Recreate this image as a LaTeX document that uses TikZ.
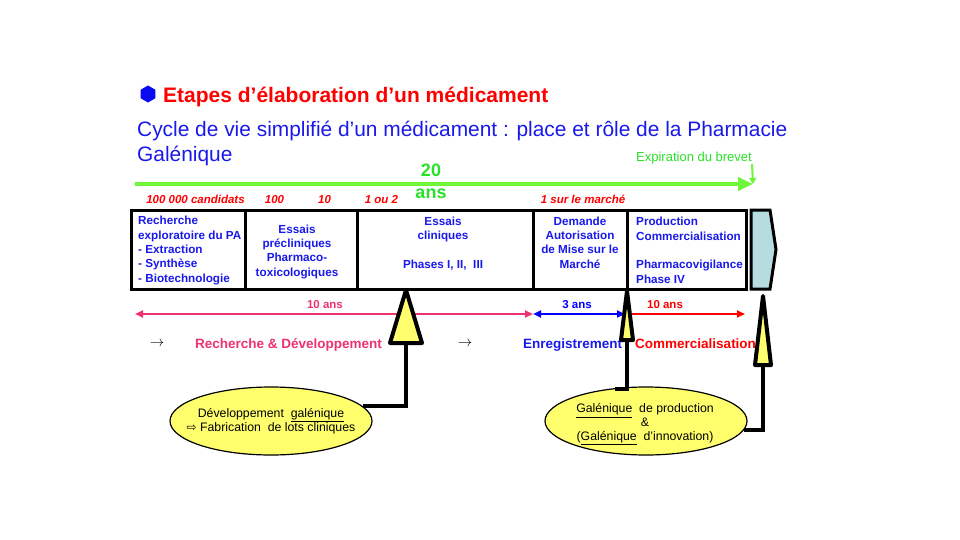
\documentclass[tikz,border=0pt]{standalone}
\usepackage{fontspec}
\setmainfont{Liberation Sans}
\newfontfamily\symfont{DejaVu Sans}
\usetikzlibrary{arrows.meta,shapes.geometric}

\definecolor{txtblue}{RGB}{25,25,235}
\definecolor{patentgreen}{RGB}{110,245,60}
\definecolor{labelgreen}{RGB}{40,225,40}
\definecolor{rdpink}{RGB}{238,50,110}
\definecolor{bubyellow}{RGB}{255,255,110}
\definecolor{tipblue}{RGB}{182,220,224}
\definecolor{bulletblue}{RGB}{10,10,240}

\begin{document}
\begin{tikzpicture}[x=1pt,y=-1pt,
  stage/.style={draw=black, line width=3pt, minimum height=79pt, inner sep=0pt},
  boxtxt/.style={text=txtblue, font=\fontsize{11.7}{14.3}\selectfont\bfseries, inner sep=0pt, anchor=base},
  count/.style={text=red, font=\fontsize{11.5}{13}\selectfont\bfseries\itshape, inner sep=0pt, anchor=base},
  span/.style={font=\fontsize{11.5}{13}\selectfont\bfseries, inner sep=0pt, anchor=base},
  phase/.style={font=\fontsize{13.5}{16}\selectfont\bfseries, inner sep=0pt, anchor=base west},
  bubble/.style={ellipse, draw=black, line width=1.2pt, fill=bubyellow,
                 minimum width=202pt, minimum height=68pt, inner sep=0pt},
  bubtxt/.style={font=\fontsize{12.3}{13.6}\selectfont, align=center, inner sep=0pt, anchor=base},
  marker/.style={draw=black, line width=4pt, fill=bubyellow, line join=round},
  stem/.style={draw=black, line width=4pt},
  span arrow/.style={line width=2.3pt},
]
\useasboundingbox (0,0) rectangle (960,540);
\fill[white] (0,0) rectangle (960,540);

% ---- headings ----
\node[regular polygon, regular polygon sides=6, shape border rotate=30, fill=bulletblue,
      minimum size=17pt, inner sep=0pt] (bullet) at (148,94) {};
\node[anchor=base west, inner sep=0pt, text=red, font=\fontsize{21}{24}\selectfont\bfseries]
  (title) at (163,103) {Etapes d’élaboration d’un médicament};
\node[anchor=base west, inner sep=0pt, text=txtblue, font=\fontsize{20.9}{24}\selectfont]
  (sub1) at (137,137) {Cycle de vie simplifié d’un médicament : place et rôle de la Pharmacie};
\node[anchor=base west, inner sep=0pt, text=txtblue, font=\fontsize{20.9}{24}\selectfont]
  (sub2) at (137,162) {Galénique};

% ---- patent lifetime ----
\node[anchor=base west, inner sep=0pt, text=labelgreen, font=\fontsize{13}{14}\selectfont]
  (brevet) at (636,161) {Expiration du brevet};
\coordinate (g0) at (135,184);
\coordinate (g1) at (753,184);
\coordinate (gx) at (752,164);
\draw[patentgreen, line width=4.5pt, -{Triangle[length=15pt,width=13pt]}] (g0) -- (g1);
\draw[patentgreen, line width=2pt, -{Triangle[length=6pt,width=7pt]}] (gx) -- (g1);
\node[span, text=labelgreen, font=\fontsize{18}{20}\selectfont\bfseries] (y20) at (431,177) {20};
\node[span, text=labelgreen, font=\fontsize{18}{20}\selectfont\bfseries] (yans) at (431,198) {ans};

% ---- candidate counts ----
\node[count] (c1) at (195.5,204) {100 000 candidats};
\node[count] (c2) at (274.5,204) {100};
\node[count] (c3) at (324.5,204) {10};
\node[count] (c4) at (381.5,204) {1 ou 2};
\node[count] (c5) at (583,204) {1 sur le marché};

% ---- stages ----
\node[stage, minimum width=114pt] (b1) at (188,249.5) {};
\node[stage, minimum width=112pt] (b2) at (301,249.5) {};
\node[stage, minimum width=176pt] (b3) at (445,249.5) {};
\node[stage, minimum width=94pt]  (b4) at (580,249.5) {};
\node[stage, minimum width=119pt] (b5) at (686.5,249.5) {};
\draw[fill=tipblue, line width=3pt, line join=miter]
  (751,210) -- (770,210) -- (776,249.5) -- (770,289) -- (751,289) -- cycle;

% multi-line labels are placed by the baseline of their last line
\node[boxtxt, anchor=base west, align=left] (t1) at (138,282)
  {Recherche\\exploratoire du PA\\- Extraction\\- Synthèse\\- Biotechnologie};
\node[boxtxt, align=center] (t2) at (297,276)
  {Essais\\précliniques\\Pharmaco-\\toxicologiques};
\node[boxtxt, align=center] (t3) at (443,268)
  {Essais\\cliniques\\\mbox{}\\Phases I, II,~ III};
\node[boxtxt, align=center] (t4) at (580,268)
  {Demande\\Autorisation\\de Mise sur le\\Marché};
\node[boxtxt, anchor=base west, align=left] (t5) at (636,283)
  {Production\\Commercialisation\\\mbox{}\\Pharmacovigilance\\Phase IV};

% ---- durations ----
\coordinate (d0) at (135,314);
\coordinate (d1) at (533,314);
\coordinate (d2) at (625,314);
\coordinate (d3) at (629,314);
\coordinate (d4) at (745,314);
\draw[span arrow, rdpink, {Triangle[length=8pt,width=7pt]}-{Triangle[length=8pt,width=7pt]}] (d0) -- (d1);
\draw[span arrow, blue, {Triangle[length=8pt,width=7pt]}-{Triangle[length=8pt,width=7pt]}] (d1) -- (d2);
\draw[span arrow, red, -{Triangle[length=8pt,width=7pt]}] (d3) -- (d4);
\node[span, text=rdpink] (s1) at (325,308.5) {10 ans};
\node[span, text=blue] (s2) at (577,308.5) {3 ans};
\node[span, text=red] (s3) at (665,308.5) {10 ans};

% ---- phases ----
\node[inner sep=0pt, font=\fontsize{14}{16}\selectfont] (ar1) at (157,344) {$\rightarrow$};
\node[inner sep=0pt, font=\fontsize{14}{16}\selectfont] (ar2) at (465,344) {$\rightarrow$};
\node[phase, text=rdpink] (p1) at (195,348) {Recherche \& Développement};
\node[phase, text=txtblue] (p2) at (523,348) {Enregistrement};
\node[phase, text=red] (p3) at (635,348) {Commercialisation};

% ---- galenic roles ----
\node[bubble] (e1) at (271,421) {};
\node[bubble] (e2) at (646,421) {};
\node[bubtxt] (e1t) at (271,431)
  {Développement~ \underline{galénique}\\{\symfont\fontsize{12}{14}\selectfont ⇨} Fabrication~ de lots cliniques};
\node[bubtxt] (e2t) at (645,440)
  {\underline{Galénique}~ de production\\\&\\(\underline{Galénique}~ d’innovation)};

% pointer 1: development
\coordinate (a1) at (406,290);
\coordinate (a1b) at (406,343);
\draw[stem] (a1b) |- (e1.9);
\draw[marker] (a1) -- (390,343) -- (422,343) -- cycle;

% pointer 2: registration
\coordinate (a2) at (627,291);
\coordinate (a2b) at (627,340);
\coordinate (c2) at (615,389);
\draw[stem] (a2b) |- (c2);
\draw[marker] (a2) -- (621,340) -- (633,340) -- cycle;

% pointer 3: after the patent
\coordinate (a3) at (763,296);
\coordinate (a3b) at (763,365);
\draw[stem] (a3b) |- (e2.-5);
\draw[marker] (a3) -- (755,365) -- (771,365) -- cycle;
\end{tikzpicture}
\end{document}
